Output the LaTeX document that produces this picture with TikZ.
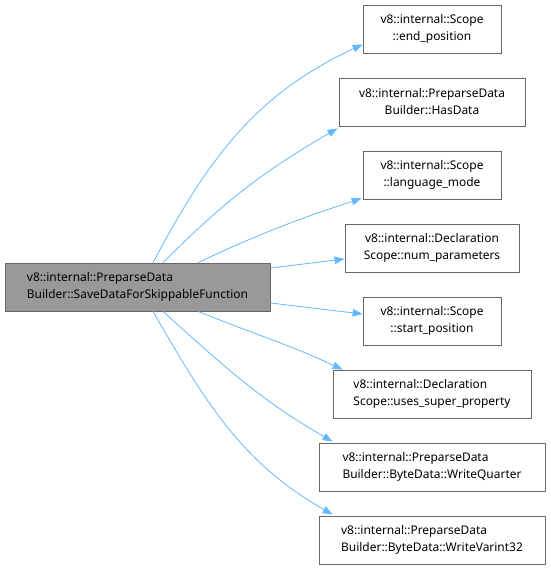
\documentclass[tikz,border=0pt]{standalone}
\usepackage{fontspec}
\setmainfont{Noto Sans}
\usetikzlibrary{arrows.meta,calc}
\definecolor{edge}{HTML}{63B8FF}
\definecolor{frame}{HTML}{666666}
\definecolor{hilite}{HTML}{999999}
\definecolor{ink}{HTML}{000000}
\tikzset{
  fn/.style      = {draw=frame, fill=white, line width=0.8pt, minimum height=48bp, inner sep=0pt,
                    font=\fontsize{12}{17}\selectfont\color{ink}, align=center},
  fnleft/.style  = {fn, align=left},
  fnself/.style  = {fn, fill=hilite, align=left},
  call/.style    = {-{Triangle[length=10bp,width=7.5bp]}, draw=edge, line width=0.8pt},
}
\begin{document}
\begin{tikzpicture}[x=1bp,y=1bp]
\path[use as bounding box] (0,0) rectangle (551,573);

% ---- the caller ---------------------------------------------------------
\node[fnself, minimum width=265bp] (self) at (137.5,286)
  {v8::internal::PreparseData\\Builder::SaveDataForSkippableFunction};

% ---- the callees --------------------------------------------------------
\node[fn,     minimum width=138bp] (endpos)  at (432,544) {v8::internal::Scope\\::end\_position};
\node[fn,     minimum width=186bp] (hasdata) at (432,471) {v8::internal::PreparseData\\Builder::HasData};
\node[fn,     minimum width=138bp] (langmode) at (432,398) {v8::internal::Scope\\::language\_mode};
\node[fn,     minimum width=174bp] (numparam) at (432,325) {v8::internal::Declaration\\Scope::num\_parameters};
\node[fn,     minimum width=138bp] (startpos) at (432,252) {v8::internal::Scope\\::start\_position};
\node[fnleft, minimum width=198bp] (superprop) at (432,179) {v8::internal::Declaration\\Scope::uses\_super\_property};
\node[fnleft, minimum width=226bp] (wquarter) at (432,106) {v8::internal::PreparseData\\Builder::ByteData::WriteQuarter};
\node[fnleft, minimum width=226bp] (wvarint) at (432,33) {v8::internal::PreparseData\\Builder::ByteData::WriteVarint32};

% ---- the calls ----------------------------------------------------------
\draw[call] ([xshift=15.5bp]self.north) to[out=62, in=205] ([yshift=9bp]endpos.south west);
\draw[call] ([xshift=25.5bp]self.north) to[out=45, in=210] ([xshift=-1bp,yshift=-2bp]hasdata.south west);
\draw[call] ([xshift=60.5bp]self.north) to[out=25, in=198] ([xshift=-1bp,yshift=1bp]langmode.south west);
\draw[call] ([yshift=19bp]self.east) -- ([yshift=-11bp]numparam.west);
\draw[call] ([yshift=-16bp]self.east) -- ([yshift=7bp]startpos.west);
\draw[call] ([xshift=60.5bp]self.south) to[out=-22, in=155] ([xshift=10bp]superprop.north west);
\draw[call] ([xshift=25.5bp]self.south) to[out=-42, in=150] ([xshift=14bp,yshift=1bp]wquarter.north west);
\draw[call] ([xshift=15.5bp]self.south) to[out=-60, in=150] ([xshift=14bp,yshift=1bp]wvarint.north west);

\end{tikzpicture}
\end{document}
